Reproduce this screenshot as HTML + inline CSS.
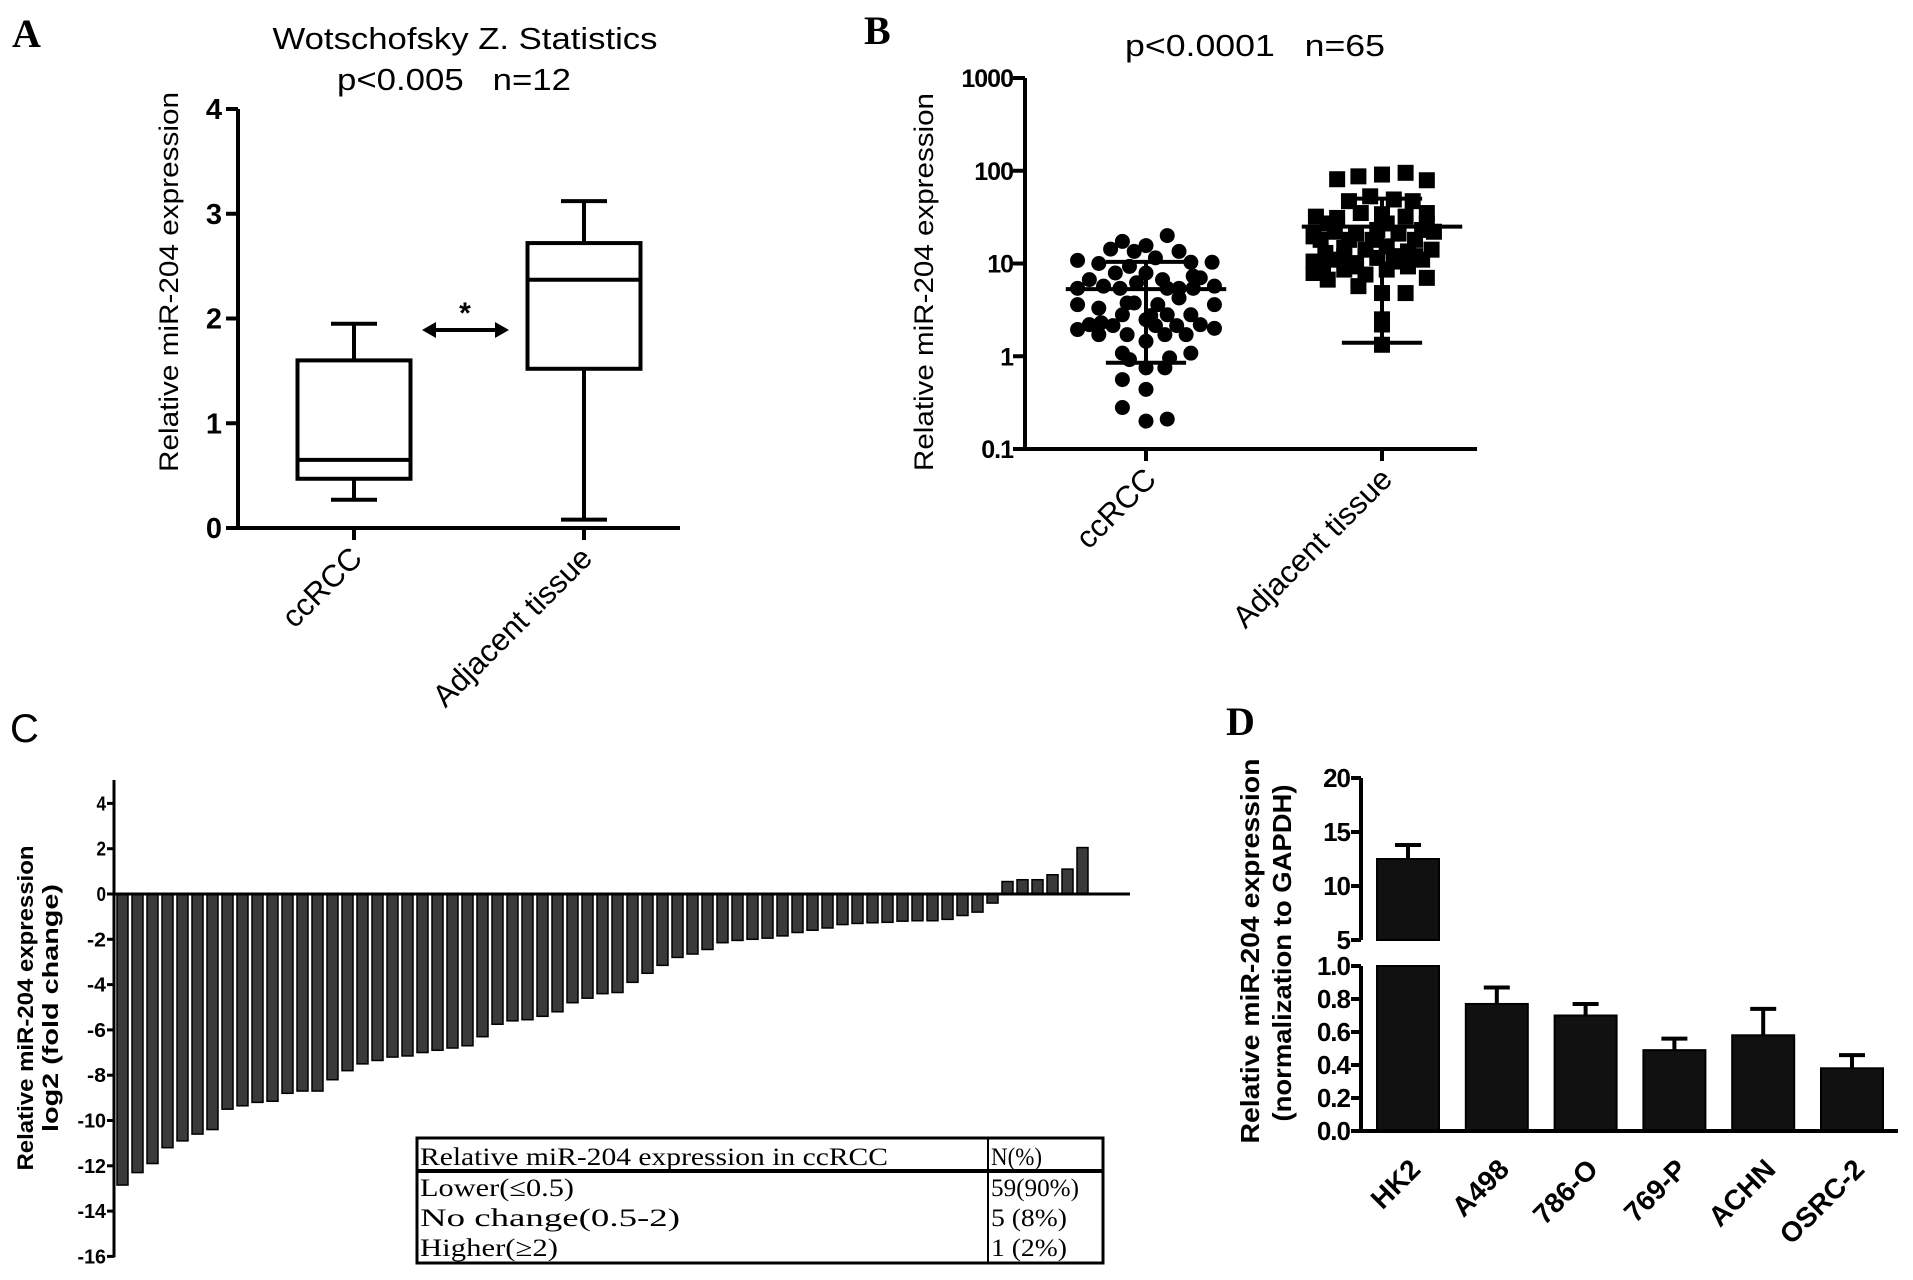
<!DOCTYPE html>
<html><head><meta charset="utf-8"><style>
html,body{margin:0;padding:0;background:#fff}
svg{display:block}
text{font-family:"Liberation Sans",Arial,sans-serif;fill:#000}
.lbl{font-family:"Liberation Serif",serif;font-weight:bold;font-size:40px}
.tk{font-weight:bold}
.tbl{font-family:"Liberation Serif","Noto Serif CJK SC",serif;font-size:25px}
</style></head><body>
<svg id="fig" width="1913" height="1280" viewBox="0 0 1913 1280" xmlns="http://www.w3.org/2000/svg">
<g id="pA"></g>
<g id="pB"></g>
<g id="pC"></g>
<g id="pD"></g>
</svg>
<script>
// ---------- Panel A data ----------
const aCategories = ["ccRCC", "Adjacent tissue"];
const aMin = [0.27, 0.08];
const aQ1 = [0.47, 1.52];
const aMedian = [0.65, 2.37];
const aQ3 = [1.60, 2.72];
const aMax = [1.95, 3.12];
const aTicks = [0, 1, 2, 3, 4];
// ---------- Panel B data ----------
const bCategories = ["ccRCC", "Adjacent tissue"];
const bTicks = [0.1, 1, 10, 100, 1000];
const bTickLabels = ["0.1", "1", "10", "100", "1000"];
const bCcValues = [10.8,14.3,17.3,13.5,15.6,20,13.5,10.3,10.3,10,7.9,9.3,11.5,5.4,6.7,5.7,5.4,6.2,7.9,6.7,5.4,7.3,7.0,5.7,5.4,5.4,3.6,3.3,3.75,3.75,3.6,4.25,3.6,2.3,2.8,2.74,2.8,2.8,1.94,2.19,2.14,2.48,2.14,2.14,2.19,2.0,1.71,1.71,1.71,1.71,1.08,1.45,0.96,1.08,0.92,0.75,0.75,0.56,0.44,0.28,0.2,0.21];
const bCcJitter = [-0.29,-0.15,-0.10,-0.05,0.0,0.09,0.14,0.19,0.28,-0.20,-0.13,-0.07,0.04,-0.29,-0.24,-0.18,-0.11,-0.04,0.0,0.07,0.14,0.20,0.23,0.29,0.09,0.20,-0.29,-0.20,-0.08,-0.05,0.05,0.14,0.29,-0.19,-0.10,0.02,0.09,0.19,-0.29,-0.24,-0.14,0.0,0.04,0.13,0.23,0.29,-0.20,-0.08,0.08,0.17,-0.10,0.0,0.10,0.19,-0.07,0.0,0.08,-0.10,0.0,-0.10,0.0,0.09];
const bCcMean = 5.3, bCcUpper = 10.4, bCcLower = 0.85;
const bAdjValues = [81,87,91,95,79,47,53,49,47,32,31,35,34,32,35,19.6,22,21,23,21,23,22,13,14.7,14.1,15.3,13.5,14.1,10.5,11,10.1,11.5,10.5,11,7.9,6.7,8.6,7.6,8.6,7,5.7,4.8,4.8,2.5,2.2,1.33,18,18,18,18,27,27,27,12,12,12,9.3,9.3,9.3];
const bAdjJitter = [-0.19,-0.10,0.0,0.10,0.19,-0.14,-0.05,0.05,0.13,-0.28,-0.19,-0.09,0.0,0.10,0.19,-0.29,-0.20,-0.11,-0.02,0.07,0.17,0.22,-0.24,-0.16,-0.07,0.02,0.11,0.21,-0.29,-0.20,-0.11,-0.02,0.08,0.17,-0.29,-0.23,-0.16,-0.07,0.02,0.19,-0.10,0.0,0.10,0.0,0.0,0.0,-0.26,-0.14,-0.04,0.14,-0.23,0.02,0.19,-0.16,0.05,0.14,-0.25,-0.11,0.11];
const bAdjMean = 25, bAdjUpper = 50, bAdjLower = 1.4;
// ---------- Panel C data ----------
const cValues = [-12.85,-12.3,-11.9,-11.2,-10.9,-10.6,-10.4,-9.5,-9.35,-9.2,-9.15,-8.8,-8.7,-8.7,-8.2,-7.8,-7.5,-7.35,-7.2,-7.15,-7.0,-6.9,-6.8,-6.7,-6.3,-5.75,-5.6,-5.55,-5.4,-5.2,-4.8,-4.6,-4.4,-4.35,-3.9,-3.5,-3.15,-2.8,-2.65,-2.45,-2.15,-2.05,-2.0,-1.95,-1.85,-1.7,-1.6,-1.5,-1.35,-1.3,-1.27,-1.25,-1.2,-1.18,-1.18,-1.12,-0.95,-0.8,-0.4,0.55,0.63,0.63,0.85,1.1,2.05];
const cTicks = [4,2,0,-2,-4,-6,-8,-10,-12,-14,-16];
// ---------- Panel D data ----------
const dCategories = ["HK2","A498","786-O","769-P","ACHN","OSRC-2"];
const dValues = [12.5,0.77,0.70,0.49,0.58,0.38];
const dErrors = [1.3,0.10,0.07,0.07,0.16,0.08];
const dUpperTicks = [5,10,15,20];
const dLowerTicks = [0,0.2,0.4,0.6,0.8,1.0];
const dLowerTickLabels = ["0.0","0.2","0.4","0.6","0.8","1.0"];

const NS = "http://www.w3.org/2000/svg";
function mk(parent, tag, attrs, txt) {
  const e = document.createElementNS(NS, tag);
  for (const k in attrs) e.setAttribute(k, attrs[k]);
  if (txt !== undefined) e.textContent = txt;
  parent.appendChild(e);
  return e;
}
function line(p, x1, y1, x2, y2, w, name) {
  const e = mk(p, "line", {x1:x1, y1:y1, x2:x2, y2:y2, stroke:"#000", "stroke-width":w});
  
  
  return e;
}
function txt(p, x, y, s, attrs, name) {
  const e = mk(p, "text", Object.assign({x:x, y:y}, attrs), s);
  
  
  return e;
}
const SP = "\u00a0";

// ================= Panel A =================
(function(){
  const g = document.getElementById("pA");
  const ax = 238, y0 = 528, unit = 104.75, xEnd = 680;
  const yA = v => y0 - v * unit;
  const xA = i => [354, 584][i];
  txt(g, 12, 47, "A", {class:"lbl"}, "panel-label-a");
  txt(g, 465, 49, "Wotschofsky Z. Statistics", {"font-size":31, "text-anchor":"middle", textLength:385, lengthAdjust:"spacingAndGlyphs"}, "chart-title-a");
  txt(g, 454, 90, "p<0.005" + SP + SP + SP + "n=12", {"font-size":31, "text-anchor":"middle", textLength:234, lengthAdjust:"spacingAndGlyphs"}, "stat-label-a");
  txt(g, 0, 0, "Relative miR-204 expression", {"font-size":27, "text-anchor":"middle", transform:"translate(178,282) rotate(-90)", textLength:380, lengthAdjust:"spacingAndGlyphs"}, "y-axis-title-a");
  line(g, ax, yA(4), ax, y0 + 2, 4, "y-axis-a");
  line(g, ax - 2, y0, xEnd, y0, 4, "x-axis-a");
  aTicks.forEach(t => {
    line(g, ax - 12, yA(t), ax, yA(t), 4, "y-tick-a");
    txt(g, ax - 16, yA(t) + 10, String(t), {"font-size":29, class:"tk", "text-anchor":"end"}, "y-tick-label-a");
  });
  aCategories.forEach((c, i) => {
    const cx = xA(i), w = 113, cap = 46;
    line(g, cx, y0, cx, y0 + 12, 4, "x-tick-a");
    txt(g, 0, 0, c, {"font-size":31, "text-anchor":"end", transform:`translate(${cx+10},${y0+32}) rotate(-45)`}, "x-tick-label-a");
    line(g, cx, yA(aMax[i]), cx, yA(aQ3[i]), 4, "whisker-upper");
    line(g, cx, yA(aQ1[i]), cx, yA(aMin[i]), 4, "whisker-lower");
    line(g, cx - cap/2, yA(aMax[i]), cx + cap/2, yA(aMax[i]), 4, "whisker-cap-max");
    line(g, cx - cap/2, yA(aMin[i]), cx + cap/2, yA(aMin[i]), 4, "whisker-cap-min");
    const r = mk(g, "rect", {x:cx - w/2, y:yA(aQ3[i]), width:w, height:yA(aQ1[i]) - yA(aQ3[i]), fill:"none", stroke:"#000", "stroke-width":4});
    
    
    line(g, cx - w/2, yA(aMedian[i]), cx + w/2, yA(aMedian[i]), 4, "median-line");
  });
  // significance arrow
  line(g, 432, 330, 498, 330, 4, "significance-arrow");
  const ah = mk(g, "path", {d:"M422 330 L436 322 L436 338 Z M509 330 L495 322 L495 338 Z", fill:"#000"});
  
  
  txt(g, 465, 323, "*", {"font-size":30, class:"tk", "text-anchor":"middle"}, "significance-star");
})();

// ================= Panel B =================
(function(){
  const g = document.getElementById("pB");
  const ax = 1025, yBot = 449, dec = 92.75, xEnd = 1477, catW = 236;
  const yB = v => yBot - (Math.log10(v) + 1) * dec;
  const xB = i => [1146, 1382][i];
  txt(g, 864, 44, "B", {class:"lbl"}, "panel-label-b");
  txt(g, 1255, 56, "p<0.0001" + SP + SP + SP + "n=65", {"font-size":31, "text-anchor":"middle", textLength:260, lengthAdjust:"spacingAndGlyphs"}, "stat-label-b");
  txt(g, 0, 0, "Relative miR-204 expression", {"font-size":27, "text-anchor":"middle", transform:"translate(933,282) rotate(-90)", textLength:378, lengthAdjust:"spacingAndGlyphs"}, "y-axis-title-b");
  line(g, ax, yB(1000), ax, yBot + 2, 4, "y-axis-b");
  line(g, ax - 2, yBot, xEnd, yBot, 4, "x-axis-b");
  bTicks.forEach((t, k) => {
    line(g, ax - 12, yB(t), ax, yB(t), 4, "y-tick-b");
    txt(g, ax - 12, yB(t) + 9, bTickLabels[k], {"font-size":25, class:"tk", "text-anchor":"end", "letter-spacing":"-1"}, "y-tick-label-b");
  });
  bCategories.forEach((c, i) => {
    const cx = xB(i);
    line(g, cx, yBot, cx, yBot + 12, 4, "x-tick-b");
    txt(g, 0, 0, c, {"font-size":31, "text-anchor":"end", transform:`translate(${cx+12},${yBot+32}) rotate(-45)`}, "x-tick-label-b");
  });
  bCcValues.forEach((v, k) => {
    const c = mk(g, "circle", {cx: xB(0) + bCcJitter[k] * catW, cy: yB(v), r: 7.5, fill:"#000"});
    
    
  });
  bAdjValues.forEach((v, k) => {
    const s = mk(g, "rect", {x: xB(1) + bAdjJitter[k] * catW - 8, y: yB(v) - 8, width:16, height:16, fill:"#000"});
    
    
  });
  [[0,bCcMean,bCcUpper,bCcLower],[1,bAdjMean,bAdjUpper,bAdjLower]].forEach(([i,m,u,l]) => {
    const cx = xB(i);
    line(g, cx - 0.34*catW, yB(m), cx + 0.34*catW, yB(m), 4, "mean-line");
    line(g, cx, yB(u), cx, yB(l), 4, "sd-line");
    line(g, cx - 0.17*catW, yB(u), cx + 0.17*catW, yB(u), 4, "sd-cap-upper");
    line(g, cx - 0.17*catW, yB(l), cx + 0.17*catW, yB(l), 4, "sd-cap-lower");
  });
})();

// ================= Panel C =================
(function(){
  const g = document.getElementById("pC");
  const ax = 114, y0 = 894, unit = 22.65, xEnd = 1130, x0 = 117, step = 15.0, bw = 11;
  const yC = v => y0 - v * unit;
  txt(g, 10, 742, "C", {"font-family":"Liberation Serif, serif", "font-size":40}, "panel-label-c");
  txt(g, 0, 0, "Relative miR-204 expression", {"font-size":22, "text-anchor":"middle", transform:"translate(33,1008) rotate(-90)", textLength:325, lengthAdjust:"spacingAndGlyphs", "font-weight":"bold"}, "y-axis-title-c-line1");
  txt(g, 0, 0, "log2 (fold change)", {"font-size":22, "text-anchor":"middle", transform:"translate(58,1008) rotate(-90)", textLength:248, lengthAdjust:"spacingAndGlyphs", "font-weight":"bold"}, "y-axis-title-c-line2");
  line(g, ax, 780, ax, yC(-16) + 1, 3, "y-axis-c");
  cTicks.forEach(t => {
    line(g, ax - 7, yC(t), ax, yC(t), 3, "y-tick-c");
    txt(g, ax - 8, yC(t) + 7, String(t), {"font-size":20, "text-anchor":"end", "font-weight":"bold", textLength: String(t).length * 9.5, lengthAdjust:"spacingAndGlyphs"}, "y-tick-label-c");
  });
  cValues.forEach((v, k) => {
    const x = x0 + k * step;
    const top = Math.min(yC(v), y0), h = Math.abs(yC(v) - y0);
    const r = mk(g, "rect", {x:x, y:top, width:bw, height:h, fill:"#3a3a3a", stroke:"#000", "stroke-width":1.5});
    
    
  });
  line(g, ax, y0, xEnd, y0, 3, "x-axis-c");
  // summary table
  const tb = mk(g, "g", {});
  
  
  const r = mk(tb, "rect", {x:417, y:1138, width:686, height:125, fill:"#fff", stroke:"#000", "stroke-width":3});
  
  
  line(tb, 417, 1171, 1103, 1171, 4, "table-header-rule");
  line(tb, 988, 1138, 988, 1263, 2, "table-column-divider");
  const rows = [["Relative miR-204 expression in ccRCC",468,"N(%)",51,1165],["Lower(≤0.5)",154,"59(90%)",88,1196],["No change(0.5-2)",260,"5 (8%)",76,1226],["Higher(≥2)",138,"1 (2%)",76,1256]];
  rows.forEach(([a,la,b,lb,y]) => {
    txt(tb, 420, y, a, {class:"tbl", textLength:la, lengthAdjust:"spacingAndGlyphs"}, "table-cell-category");
    txt(tb, 991, y, b, {class:"tbl", textLength:lb, lengthAdjust:"spacingAndGlyphs"}, "table-cell-count");
  });
})();

// ================= Panel D =================
(function(){
  const g = document.getElementById("pD");
  const ax = 1361, y0 = 1131, xEnd = 1898, bw = 62;
  const yLow = v => y0 - v * 165;
  const yUp = v => 886 - (v - 10) * 10.8;
  const yD = v => v > 1 ? yUp(v) : yLow(v);
  const xD = i => 1408 + i * 88.8;
  txt(g, 1226, 735, "D", {class:"lbl"}, "panel-label-d");
  txt(g, 0, 0, "Relative miR-204 expression", {"font-size":26, "text-anchor":"middle", "font-weight":"bold", transform:"translate(1259,951) rotate(-90)", textLength:385, lengthAdjust:"spacingAndGlyphs"}, "y-axis-title-d-line1");
  txt(g, 0, 0, "(normalization to GAPDH)", {"font-size":26, "text-anchor":"middle", "font-weight":"bold", transform:"translate(1291,953) rotate(-90)", textLength:337, lengthAdjust:"spacingAndGlyphs"}, "y-axis-title-d-line2");
  line(g, ax, yUp(20), ax, yUp(5), 4, "y-axis-d-upper");
  line(g, ax, yLow(1), ax, y0 + 2, 4, "y-axis-d-lower");
  dUpperTicks.forEach(t => {
    line(g, ax - 10, yUp(t), ax, yUp(t), 4, "y-tick-d-upper");
    txt(g, ax - 11, yUp(t) + 9, String(t), {"font-size":26, class:"tk", "text-anchor":"end", "letter-spacing":"-1"}, "y-tick-label-d-upper");
  });
  dLowerTicks.forEach((t, k) => {
    line(g, ax - 10, yLow(t), ax, yLow(t), 4, "y-tick-d-lower");
    txt(g, ax - 11, yLow(t) + 9, dLowerTickLabels[k], {"font-size":26, class:"tk", "text-anchor":"end", "letter-spacing":"-1"}, "y-tick-label-d-lower");
  });
  dValues.forEach((v, i) => {
    const cx = xD(i);
    if (v > 1) {
      const r1 = mk(g, "rect", {x:cx - bw/2, y:yUp(v), width:bw, height:yUp(5) - yUp(v), fill:"#111", stroke:"#000", "stroke-width":2});
      
      
      const r2 = mk(g, "rect", {x:cx - bw/2, y:yLow(1), width:bw, height:y0 - yLow(1), fill:"#111", stroke:"#000", "stroke-width":2});
      
      
    } else {
      const r = mk(g, "rect", {x:cx - bw/2, y:yLow(v), width:bw, height:y0 - yLow(v), fill:"#111", stroke:"#000", "stroke-width":2});
      
      
    }
    const top = yD(v + dErrors[i]);
    line(g, cx, yD(v), cx, top, 4, "error-bar");
    line(g, cx - 13, top, cx + 13, top, 4, "error-cap");
    txt(g, 0, 0, dCategories[i], {"font-size":28, "font-weight":"bold", "text-anchor":"end", transform:`translate(${cx+14},${y0+40}) rotate(-45)`}, "x-tick-label-d");
  });
  line(g, ax - 2, y0, xEnd, y0, 4, "x-axis-d");
})();
</script>
</body></html>
